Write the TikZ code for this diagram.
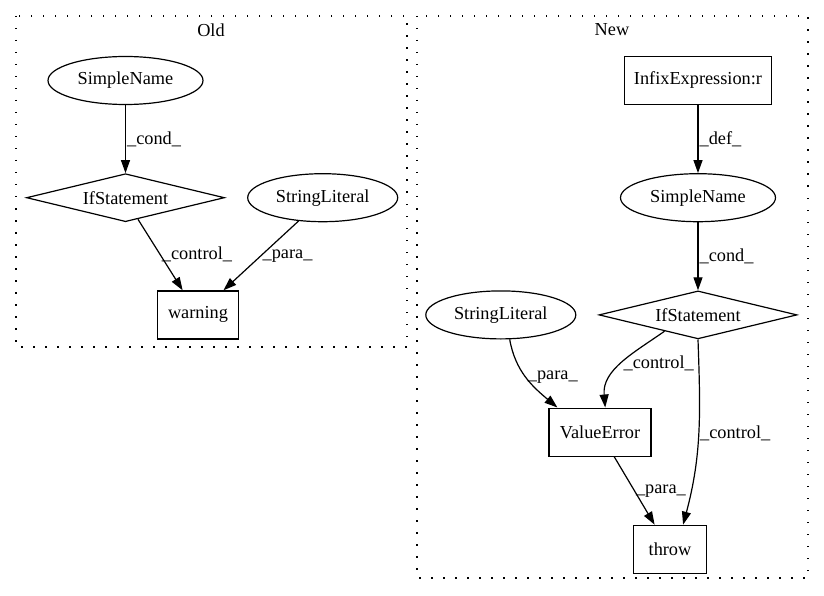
\documentclass[tikz,border=0pt]{standalone}
\usepackage{fontspec}
\setmainfont{Liberation Serif}
\usetikzlibrary{shapes.geometric, arrows.meta, positioning}

\begin{document}
\begin{tikzpicture}[x=1pt,y=1pt,font=\fontsize{18.3pt}{22pt}\selectfont,line width=1.2pt,
    oval/.style={draw, ellipse, minimum height=48pt, inner sep=0pt},
    cond/.style={draw, diamond, aspect=4, minimum width=198pt, minimum height=48pt, inner sep=0pt},
    box/.style={draw, rectangle, minimum height=48pt, inner sep=0pt},
    lbl/.style={right, inner sep=1pt},
    flow/.style={-{Triangle[length=13pt,width=9pt]}},
    cluster/.style={draw, dash pattern=on 1.5pt off 10.5pt},
    node distance=68pt and 22pt]

\useasboundingbox (0,0) rectangle (824,-596);

% Old
\draw[cluster] (16,-16) rectangle (407,-347);
\node (oldTitle) at (211,-30) {Old};

\node[oval, minimum width=155pt] (snOld) at (125.5,-80.5) {SimpleName};
\node[cond, below=of snOld] (ifOld) {IfStatement};
\node[oval, minimum width=150pt, right=of ifOld] (slOld) {StringLiteral};
\node[box, minimum width=81pt, below=of ifOld, xshift=72.5pt] (warning) {warning};

% New
\draw[cluster] (417,-16) rectangle (808,-578);
\node (newTitle) at (612,-30) {New};

\node[box, minimum width=147pt] (infix) at (698,-80.5) {InfixExpression:r};
\node[oval, minimum width=155pt, below=of infix] (snNew) {SimpleName};
\node[cond, below=of snNew] (ifNew) {IfStatement};
\node[oval, minimum width=150pt, left=of ifNew] (slNew) {StringLiteral};
\node[box, minimum width=102pt, below=of ifNew, xshift=-98pt] (valueError) {ValueError};
\node[box, minimum width=73pt, below=of valueError, xshift=70pt] (throw) {throw};

% Arrows
\draw[flow] (snOld) -- node[lbl]{\_cond\_} (ifOld);
\draw[flow] (ifOld.-60) -- node[lbl]{\_control\_} (warning.122);
\draw[flow] (slOld.-136) -- node[lbl]{\_para\_} (warning.44);

\draw[flow] (infix) -- node[lbl]{\_def\_} (snNew);
\draw[flow] (snNew) -- node[lbl]{\_cond\_} (ifNew);
\draw[flow] (slNew.-70) to[out=-80, in=140] node[lbl]{\_para\_} (valueError.150);
\draw[flow] (ifNew.-154) to[out=-145, in=95] node[lbl]{\_control\_} (valueError.78);
\draw[flow] (ifNew.south) to[out=-88, in=75] node[lbl]{\_control\_} (throw.62);
\draw[flow] (valueError.-60) -- node[lbl]{\_para\_} (throw.122);
\end{tikzpicture}
\end{document}
